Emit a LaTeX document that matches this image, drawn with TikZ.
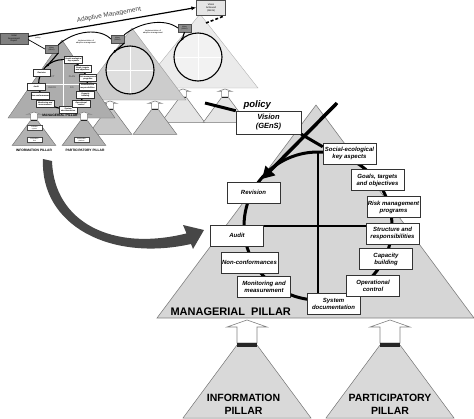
\documentclass[tikz,border=0pt]{standalone}
\usepackage{fontspec}
\setmainfont{Liberation Sans}
\usetikzlibrary{arrows.meta, positioning, calc}

% the eleven boxes of the cycle, placed round its centre
\newcommand{\cycleboxes}[1]{%
  \node[cbox] (#1soc) at (31.5,-72.5) {Social-ecological\\key aspects};
  \node[cbox] (#1goal) at (59.5,-46) {Goals, targets\\and objectives};
  \node[cbox] (#1risk) at (75.5,-19) {Risk management\\programs};
  \node[cbox] (#1rev) at (-64.5,-33.5) {Revision};
  \node[cbox] (#1str) at (74.5,7.5) {Structure and\\responsibilities};
  \node[cbox] (#1aud) at (-81,9.5) {Audit};
  \node[cbox] (#1nc) at (-68.5,36.5) {Non-conformances};
  \node[cbox] (#1mon) at (-54,60.5) {Monitoring and\\measurement};
  \node[cbox] (#1sys) at (15.5,78) {System\\documentation};
  \node[cbox] (#1op) at (55,60) {Operational\\control};
  \node[cbox] (#1cap) at (68,33) {Capacity\\building};
}

% a supporting pillar with its up arrow
\newcommand{\pillarunit}[5]{%
  \begin{scope}[shift={(#2,#3)}, scale=#4]
    \filldraw[fill=#5, draw=black!55, line width=0.5pt] (-10,25) -- (10,25) -- (64,98) -- (-64,98) -- cycle;
    \draw[fill=white, draw=black!50, line width=0.6pt] (0,0) -- (20,7) -- (10,7) -- (10,23) -- (-10,23) -- (-10,7) -- (-20,7) -- cycle;
    \fill[black!85] (-10,23) rectangle (10,26.5);
    \coordinate (#1) at (0,0);
  \end{scope}}

\begin{document}
\begin{tikzpicture}[x=1pt, y=-1pt,
    cbox/.style={rectangle, draw=black!80, fill=white, line width=0.5pt, minimum width=53, minimum height=21, inner sep=1pt, align=center, font=\fontsize{6}{7}\selectfont\bfseries\itshape},
    vbox/.style={cbox, minimum width=65, minimum height=23, font=\fontsize{7.5}{9}\selectfont\bfseries\itshape},
    gbox/.style={rectangle, draw=black!70, fill=black!45, line width=0.3pt, minimum width=13, minimum height=8, inner sep=0.3pt, align=center, font=\fontsize{1.8}{2.4}\selectfont},
    tbx/.style={rectangle, draw=black!70, fill=white, line width=0.3pt, minimum width=15, minimum height=5, inner sep=0.3pt, align=center, font=\fontsize{1.6}{2.1}\selectfont},
    tinytxt/.style={font=\fontsize{2}{2.8}\selectfont, align=center},
    pcap/.style={font=\fontsize{3.3}{3.8}\selectfont\bfseries, align=center},
    bigcap/.style={font=\fontsize{10.5}{13}\selectfont\bfseries, align=center}
  ]
\useasboundingbox (0,0) rectangle (474,418);

% Third cycle (lightest)
\filldraw[fill=black!8, draw=black!30, line width=0.4pt] (200,14) -- (258,88) -- (140,88) -- cycle;
\pillarunit{p3a}{183}{89}{0.34}{black!10}
\pillarunit{p3b}{225}{89}{0.34}{black!10}
\filldraw[fill=black!5, draw=black, line width=1.1pt] (198,57) circle (24);
\draw[white, line width=0.5pt] (198,34) -- (198,80) (175,57) -- (221,57);

% Second cycle
\filldraw[fill=black!20, draw=black!40, line width=0.4pt] (132,28) -- (186,100) -- (78,100) -- cycle;
\pillarunit{p2a}{110}{101}{0.34}{black!22}
\pillarunit{p2b}{155}{101}{0.34}{black!22}
\filldraw[fill=black!13, draw=black, line width=1.1pt] (130,70) circle (24);
\draw[white, line width=0.5pt] (130,47) -- (130,93) (107,70) -- (153,70);

% First cycle (thumbnail of the managerial pillar)
\filldraw[fill=black!32, draw=black!55, line width=0.4pt] (62,40) -- (115,118) -- (8,118) -- cycle;
\begin{scope}[shift={(63,84)}, scale=0.33, transform shape]
  \draw[line width=1.1pt] (0,0) circle (74);
  \draw[white, line width=0.6pt] (0,-72) -- (0,70) (-60,0) -- (55,0);
  \node[font=\fontsize{7}{8}\selectfont\bfseries, text=black!65] (tact) at (-33,-21) {ACT};
  \node[font=\fontsize{7}{8}\selectfont\bfseries, text=black!65] (tplan) at (27,-21) {PLAN};
  \node[font=\fontsize{7}{8}\selectfont\bfseries, text=black!65] (tcheck) at (-33,12) {CHECK};
  \node[font=\fontsize{7}{8}\selectfont\bfseries, text=black!65] (tdo) at (27,12) {DO};
  \cycleboxes{t}
\end{scope}
\pillarunit{p1a}{34}{112}{0.34}{black!30}
\pillarunit{p1b}{84}{112}{0.34}{black!30}
\node[pcap] (tmp) at (60,115.5) {MANAGERIAL PILLAR};
\node[tbx] (tib1) at (34.5,128) {Indicator\\system};
\node[tbx] (tib2) at (34.5,139.5) {Information\\flow};
\node[tbx] (tpb1) at (81.5,140) {Stakeholder\\platform};
\node[pcap] (tinfo) at (34,150) {INFORMATION PILLAR};
\node[pcap] (tpart) at (85,150) {PARTICIPATORY PILLAR};

% Adaptive management path
\node[gbox, fill=black!50, minimum width=28, minimum height=11, font=\fontsize{2.2}{2.9}\selectfont] (init) at (14,38.5) {Initial\\Assessment\\Report};
\node[gbox] (tvis) at (51.5,49) {Vision\\(GEnS)};
\node[gbox] (s2vis) at (117.5,39) {Vision\\(GEnS)};
\node[gbox] (s3vis) at (184.5,28) {Vision\\(GEnS)};
\node[gbox, fill=black!10, minimum width=29, minimum height=15, font=\fontsize{2.4}{3.1}\selectfont] (vach) at (211,7.5) {Vision\\Achieved\\(GEnS)};

\draw[line width=1.2pt, -{Latex[length=5pt,width=4pt]}] ([yshift=2]init.east) -- (vach.west);
\node[font=\fontsize{6.5}{7}\selectfont, text=black!75, rotate=10] (amlab) at (109,15) {Adaptive Management};
\draw[line width=0.7pt] ([yshift=-1]init.east) -- (tvis.west);
\node[tinytxt] (tpol) at (38,37.5) {policy};

\draw[line width=0.9pt] (tvis.north east) .. controls (75,30) and (100,28) .. (s2vis.west);
\node[tinytxt] (arc1lab) at (86,42) {Implementation of\\adaptive management};
\draw[line width=0.9pt] (s2vis.north east) .. controls (140,22) and (165,18) .. (s3vis.west);
\node[tinytxt] (arc2lab) at (153,32) {Implementation of\\adaptive management};
\draw[line width=1.1pt, -{Latex[length=3pt,width=3pt]}] (tvis.south east) .. controls (55,57) .. (46,67);
\draw[line width=1.1pt, -{Latex[length=3pt,width=3pt]}] (s2vis.south east) .. controls (121,46) .. (113,53);
\draw[line width=1.1pt, -{Latex[length=3pt,width=3pt]}] (s3vis.south) .. controls (184,36) .. (181,41);
\draw[line width=1.6pt, dash pattern=on 3pt off 2pt] (206,23) -- (224,16);

% Zoom arrow
\fill[black!72] (43,159) .. controls (40,225) and (110,262) .. (191,244) -- (193,249) -- (204,230) -- (183,225) -- (186.5,233.4) .. controls (112,252) and (54,222) .. (52,161) -- cycle;

% Managerial pillar (enlarged)
\filldraw[fill=black!16, draw=black!50, line width=0.6pt] (316,105) -- (474,318) -- (157,318) -- cycle;
\begin{scope}[shift={(318,226)}]
  \draw[line width=3pt] (0,0) circle (74);
  \draw[line width=1.4pt] (0,-74) -- (0,70);
  \draw[line width=1.4pt] (-60,0) -- (55,0);
\end{scope}
\coordinate (dstart) at (337,103);
\coordinate (dend) at (262,179);
\coordinate (polstart) at (205,103);
\draw[line width=3.5pt, -{Triangle[length=12pt,width=13pt]}] (dstart) -- (dend);

\node[vbox] (vision) at (268.5,122.5) {Vision\\(GEnS)};
\begin{scope}[shift={(318,226)}]
  \cycleboxes{m}
\end{scope}
\draw[line width=3pt] (polstart) -- (vision.north west);
\draw[line width=3pt] (vision.south east) -- ([yshift=-4]msoc.north west);
\node[anchor=base west, font=\fontsize{9.5}{11}\selectfont\bfseries\itshape] (policy) at (240,107) {policy};
\node[anchor=base west, font=\fontsize{11}{13}\selectfont\bfseries] (mplabel) at (167,315) {MANAGERIAL\ \ PILLAR};

% Information and participatory pillars
\pillarunit{infoarr}{247}{320}{1}{black!15}
\pillarunit{partarr}{390}{320}{1}{black!15}
\node[bigcap] (infolab) at (243.5,404) {INFORMATION\\PILLAR};
\node[bigcap] (partlab) at (390,404) {PARTICIPATORY\\PILLAR};

\end{tikzpicture}
\end{document}
